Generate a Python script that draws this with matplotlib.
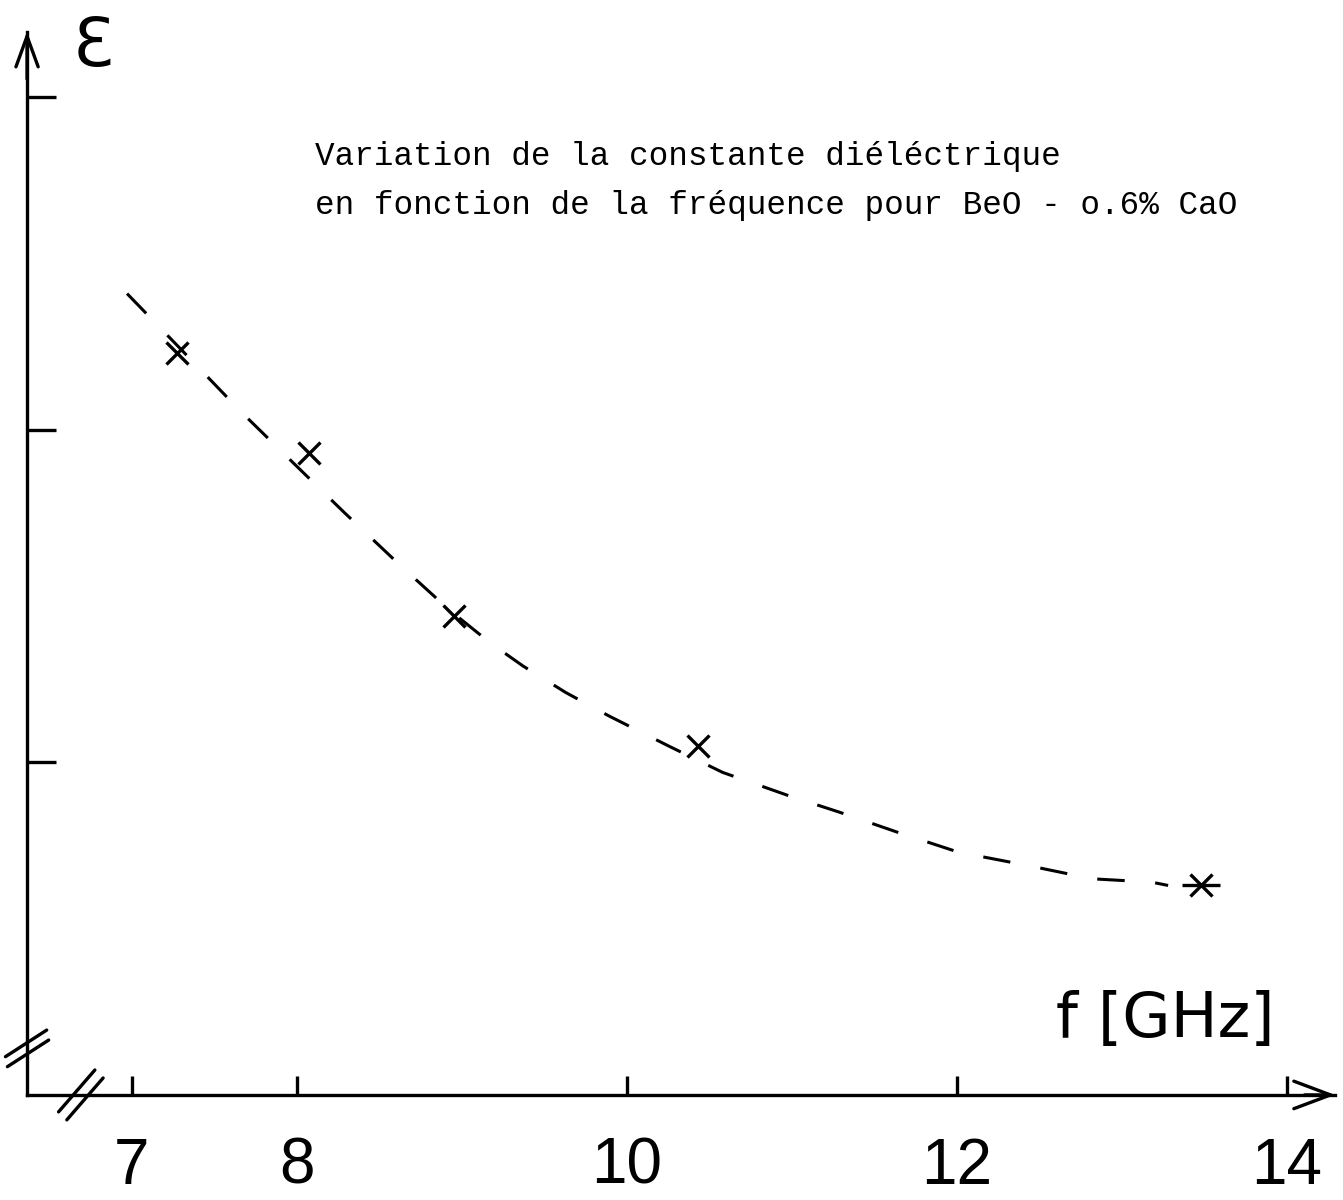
import matplotlib
matplotlib.use('Agg')
import matplotlib.pyplot as plt

# measured dielectric constant vs frequency (BeO - 0.6% CaO)
freq_ghz = [7.27, 8.07, 8.95, 10.43, 13.48]
epsilon = [2.23, 1.93, 1.44, 1.05, 0.63]

# hand-drawn trend curve through the measurements
curve_f = [6.97, 7.36, 7.67, 8.00, 8.29, 8.61, 8.92, 9.17, 9.37, 9.63, 9.89,
           10.25, 10.58, 10.98, 11.29, 11.64, 12.01, 12.43, 12.82, 13.18, 13.28]
curve_eps = [2.41, 2.21, 2.05, 1.89, 1.75, 1.60, 1.46, 1.36, 1.29, 1.21, 1.14,
             1.05, 0.97, 0.90, 0.85, 0.79, 0.73, 0.69, 0.65, 0.64, 0.63]

x_ticks = [7, 8, 10, 12, 14]
x_ticklabels = ['7', '8', '10', '12', '14']
y_ticks = [1, 2, 3]

title_lines = ['Variation de la constante diéléctrique',
               'en fonction de la fréquence pour BeO - o.6% CaO']

W, H = 1343, 1200
fig = plt.figure(figsize=(W / 100, H / 100), dpi=100)
ax = fig.add_axes([0, 0, 1, 1])
ax.set_xlim(6.2, 14.34)
ax.set_ylim(-0.316, 3.293)

x0 = 6.364          # where the epsilon axis sits
x_end = 14.29
y_end = 3.197
lw = 2.4

# axes drawn by hand: left and bottom spines only
for side in ['top', 'right']:
    ax.spines[side].set_visible(False)
ax.spines['left'].set_position(('data', x0))
ax.spines['bottom'].set_position(('data', 0))
ax.spines['left'].set_bounds(0, y_end)
ax.spines['bottom'].set_bounds(x0, x_end)
for side in ['left', 'bottom']:
    ax.spines[side].set_linewidth(lw)

ax.annotate('', xy=(x_end + 0.02, 0), xytext=(x_end - 0.2, 0),
            arrowprops=dict(arrowstyle='->, head_length=1.2, head_width=0.45',
                            lw=lw, mutation_scale=22, color='black'))
ax.annotate('', xy=(x0, y_end + 0.01), xytext=(x0, y_end - 0.15),
            arrowprops=dict(arrowstyle='->, head_length=1.1, head_width=0.4',
                            lw=lw, mutation_scale=20, color='black'))

ax.set_xticks(x_ticks)
ax.set_xticklabels(x_ticklabels, family='Liberation Sans', fontsize=46)
ax.set_yticks(y_ticks)
ax.set_yticklabels([])
ax.tick_params(axis='x', direction='in', length=14, width=lw, pad=30)
ax.tick_params(axis='y', direction='in', length=21, width=lw)

# axis break marks: two parallel strokes across each axis
def draw_break(cx, cy, dx, dy, sx, sy):
    for k in (-1, 1):
        ax.plot([cx - dx + k * sx, cx + dx + k * sx],
                [cy - dy + k * sy, cy + dy + k * sy],
                color='black', lw=lw, clip_on=False, solid_capstyle='round')

draw_break(x0, 0.14, 0.125, 0.04, 0.006, -0.015)
draw_break(6.69, 0.0, 0.11, 0.063, 0.025, -0.012)

# dashed trend curve and measured points
ax.plot(curve_f, curve_eps, color='black', lw=2.2, linestyle=(0, (9, 10)))
ax.plot(freq_ghz, epsilon, linestyle='none', marker='x', markersize=16,
        mew=2.4, color='black')
ax.plot(freq_ghz[-1:], epsilon[-1:], linestyle='none', marker='_',
        markersize=28, mew=2.4, color='black')

ax.set_ylabel('Ɛ', rotation=0, fontsize=48, family='DejaVu Sans',
              ha='center', va='baseline')
ax.yaxis.set_label_coords(93 / W, 1 - 66 / H)
ax.set_xlabel('f [GHz]', fontsize=45, family='DejaVu Sans',
              ha='center', va='center')
ax.xaxis.set_label_coords(1165 / W, 1 - 1020 / H)

ax.text(315 / W, 1 - 157 / H, title_lines[0], transform=ax.transAxes,
        family='Liberation Mono', fontsize=23.5, ha='left', va='center')
ax.text(315 / W, 1 - 205 / H, title_lines[1], transform=ax.transAxes,
        family='Liberation Mono', fontsize=23.5, ha='left', va='center')

fig.savefig('out.png', dpi=100, facecolor='white')
